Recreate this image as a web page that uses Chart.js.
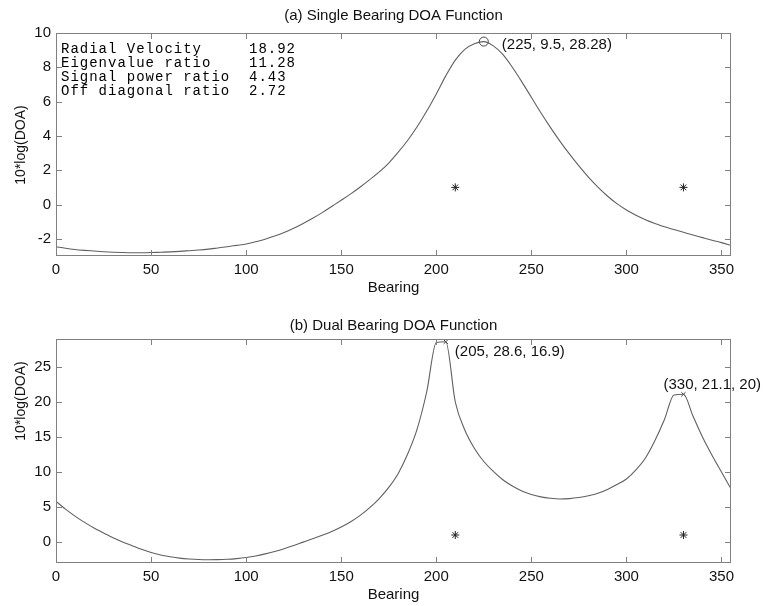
<!DOCTYPE html>
<html lang="en">
<head>
<meta charset="UTF-8">
<title>DOA Functions</title>
<script src="https://cdn.jsdelivr.net/npm/chart.js@4"></script>
<style>
    html, body { margin: 0; padding: 0; background: #fff; }
    .panel { position: absolute; left: 0; width: 764px; height: 303px; }
    #topPanel { top: 0; }
    #bottomPanel { top: 303px; }
</style>
</head>
<body>
<div class="panel" id="topPanel"><canvas id="singleChart" width="764" height="303"></canvas></div>
<div class="panel" id="bottomPanel"><canvas id="dualChart" width="764" height="303"></canvas></div>
<script>
// bearings (deg), sampled every 5 degrees
var bearings = [0, 5, 10, 15, 20, 25, 30, 35, 40, 45, 50, 55, 60, 65, 70, 75, 80, 85,
    90, 95, 100, 105, 110, 115, 120, 125, 130, 135, 140, 145, 150, 155, 160, 165, 170, 175,
    180, 185, 190, 195, 200, 205, 210, 215, 220, 225, 230, 235, 240, 245, 250, 255, 260, 265,
    270, 275, 280, 285, 290, 295, 300, 305, 310, 315, 320, 325, 330, 335, 340, 345, 350, 355];

// (a) single bearing DOA, 10*log(DOA)
var singleDoa = [-2.46, -2.55, -2.62, -2.67, -2.71, -2.75, -2.78, -2.8, -2.81, -2.81, -2.8, -2.78,
    -2.76, -2.73, -2.69, -2.65, -2.6, -2.53, -2.46, -2.38, -2.3, -2.17, -2.02, -1.84,
    -1.63, -1.38, -1.1, -0.8, -0.47, -0.11, 0.25, 0.62, 1.02, 1.45, 1.9, 2.42,
    3.05, 3.75, 4.55, 5.45, 6.45, 7.5, 8.42, 9.05, 9.38, 9.5, 9.25, 8.75,
    8.0, 7.15, 6.25, 5.35, 4.5, 3.7, 2.95, 2.25, 1.6, 1.02, 0.5, 0.05,
    -0.32, -0.62, -0.88, -1.1, -1.3, -1.46, -1.62, -1.78, -1.93, -2.08, -2.22, -2.38];

// (b) dual bearing DOA, 10*log(DOA)
var dualDoa = [5.8, 4.7, 3.7, 2.8, 2.0, 1.3, 0.6, 0.0, -0.52, -1.05, -1.5, -1.85,
    -2.1, -2.3, -2.42, -2.5, -2.53, -2.52, -2.47, -2.37, -2.22, -2.0, -1.7, -1.35,
    -0.95, -0.5, -0.02, 0.45, 0.95, 1.5, 2.15, 2.9, 3.8, 4.9, 6.2, 7.8,
    9.8, 12.6, 16.2, 21.5, 28.5, 28.6, 20.0, 16.0, 13.4, 11.5, 10.1, 8.9,
    8.0, 7.3, 6.8, 6.45, 6.25, 6.15, 6.2, 6.35, 6.6, 6.95, 7.5, 8.2,
    9.0, 10.3, 12.0, 14.5, 17.5, 21.0, 21.1, 18.0, 15.0, 12.4, 10.0, 7.6];

// true source bearings (asterisks)
var trueBearings = [210, 330];
var trueLevels = [1, 1];

// detected peaks
var singlePeakBearings = [225];
var singlePeakValues = [9.5];
var singlePeakLabels = ['(225, 9.5, 28.28)'];
var dualPeakBearings = [205, 330];
var dualPeakValues = [28.6, 21.1];
var dualPeakLabels = ['(205, 28.6, 16.9)', '(330, 21.1, 20)'];

// statistics box in panel (a)
var statNames = ['Radial Velocity', 'Eigenvalue ratio', 'Signal power ratio', 'Off diagonal ratio'];
var statValues = ['18.92', '11.28', '4.43', '2.72'];

// tick labels
var xTicks = [0, 50, 100, 150, 200, 250, 300, 350];
var singleYTicks = [-2, 0, 2, 4, 6, 8, 10];
var dualYTicks = [0, 5, 10, 15, 20, 25];

var SANS = '"Liberation Sans", Arial, Helvetica, sans-serif';
var MONO = '"Liberation Mono", "Courier New", monospace';
var TEXT = '#111';

function toPoints(xs, ys) {
    return xs.map(function (x, i) { return { x: x, y: ys[i] }; });
}

// frame, inward ticks, titles and text annotations drawn MATLAB-style
var matlabAxes = {
    id: 'matlabAxes',
    afterDraw: function (chart, args, opts) {
        var ctx = chart.ctx, a = chart.chartArea;
        var sx = chart.scales.x, sy = chart.scales.y;
        var tl = 6;
        ctx.save();
        ctx.strokeStyle = '#808080';
        ctx.lineWidth = 1;
        ctx.strokeRect(a.left + 0.5, a.top + 0.5, a.right - a.left - 1, a.bottom - a.top - 1);
        ctx.beginPath();
        opts.xTicks.forEach(function (v) {
            var px = Math.round(sx.getPixelForValue(v)) + 0.5;
            ctx.moveTo(px, a.bottom); ctx.lineTo(px, a.bottom - tl);
            ctx.moveTo(px, a.top); ctx.lineTo(px, a.top + tl);
        });
        opts.yTicks.forEach(function (v) {
            var py = Math.round(sy.getPixelForValue(v)) + 0.5;
            ctx.moveTo(a.left, py); ctx.lineTo(a.left + tl, py);
            ctx.moveTo(a.right, py); ctx.lineTo(a.right - tl, py);
        });
        ctx.stroke();

        ctx.fillStyle = TEXT;
        ctx.textBaseline = 'middle';

        // panel title
        ctx.font = '15px ' + SANS;
        ctx.textAlign = 'center';
        ctx.fillText(opts.title, (a.left + a.right) / 2, opts.titleY);

        // y axis title
        ctx.save();
        ctx.font = '14px ' + SANS;
        ctx.translate(opts.yTitleX, opts.yTitleY);
        ctx.rotate(-Math.PI / 2);
        ctx.fillText('10*log(DOA)', 0, 0);
        ctx.restore();

        // peak labels
        ctx.font = '15px ' + SANS;
        ctx.textAlign = 'left';
        opts.peakLabels.forEach(function (txt, i) {
            var px = sx.getPixelForValue(opts.peakX[i]);
            var py = sy.getPixelForValue(opts.peakY[i]);
            ctx.fillText(txt, px + opts.labelOffsets[i][0], py + opts.labelOffsets[i][1]);
        });

        // statistics box
        if (opts.stats) {
            ctx.fillStyle = '#000';
            ctx.font = '14px ' + MONO;
            ctx.letterSpacing = '1px';
            opts.stats.names.forEach(function (name, i) {
                var y = a.top + 16 + i * 14.2;
                ctx.fillText(name, a.left + 5, y);
                ctx.fillText(opts.stats.values[i], a.left + 193, y);
            });
        }
        ctx.restore();
    }
};

function makeChart(canvasId, cfg) {
    var ctx = document.getElementById(canvasId).getContext('2d');
    return new Chart(ctx, {
        type: 'scatter',
        data: {
            datasets: [{
                data: toPoints(bearings, cfg.values),
                showLine: true,
                borderColor: '#606060',
                borderWidth: 1.1,
                pointRadius: 0,
                cubicInterpolationMode: 'monotone'
            }, {
                data: toPoints(trueBearings, trueLevels),
                showLine: false,
                pointStyle: 'star',
                pointRadius: 4,
                borderColor: '#222',
                borderWidth: 1
            }, {
                data: toPoints(cfg.peakX, cfg.peakY),
                showLine: false,
                pointStyle: cfg.peakStyle,
                pointRadius: cfg.peakRadius,
                borderColor: '#444',
                backgroundColor: 'rgba(0,0,0,0)',
                borderWidth: 1
            }]
        },
        options: {
            responsive: false,
            animation: false,
            events: [],
            layout: { padding: { left: 0, right: 33, top: cfg.top, bottom: 0 } },
            plugins: {
                legend: { display: false },
                tooltip: { enabled: false },
                matlabAxes: {
                    title: cfg.title,
                    titleY: cfg.titleY,
                    yTitleX: 21,
                    yTitleY: cfg.yTitleY,
                    xTicks: xTicks,
                    yTicks: cfg.yTicks,
                    peakX: cfg.peakX,
                    peakY: cfg.peakY,
                    peakLabels: cfg.peakLabels,
                    labelOffsets: cfg.labelOffsets,
                    stats: cfg.stats
                }
            },
            scales: {
                x: {
                    type: 'linear',
                    min: 0,
                    max: 355,
                    afterBuildTicks: function (s) { s.ticks = xTicks.map(function (v) { return { value: v }; }); },
                    afterFit: function (s) { s.height = 303 - cfg.bottom; },
                    grid: { display: false, drawTicks: false },
                    border: { display: false },
                    ticks: { padding: 5, color: TEXT, maxRotation: 0, autoSkip: false, font: { family: SANS, size: 15 } },
                    title: { display: true, text: 'Bearing', color: TEXT, font: { family: SANS, size: 15, lineHeight: 1.2 },
                        padding: { top: 0, bottom: cfg.xTitlePad } }
                },
                y: {
                    type: 'linear',
                    min: cfg.yMin,
                    max: cfg.yMax,
                    afterBuildTicks: function (s) { s.ticks = cfg.yTicks.map(function (v) { return { value: v }; }); },
                    afterFit: function (s) { s.width = 56; },
                    grid: { display: false, drawTicks: false },
                    border: { display: false },
                    ticks: { padding: 5, color: TEXT, autoSkip: false, font: { family: SANS, size: 15 } }
                }
            }
        },
        plugins: [matlabAxes]
    });
}

var singleChart = makeChart('singleChart', {
    values: singleDoa,
    title: '(a) Single Bearing DOA Function',
    titleY: 16,
    top: 33,
    bottom: 256,
    xTitlePad: 6,
    yTitleY: 145,
    yMin: -3,
    yMax: 10,
    yTicks: singleYTicks,
    peakX: singlePeakBearings,
    peakY: singlePeakValues,
    peakStyle: 'circle',
    peakRadius: 4.5,
    peakLabels: singlePeakLabels,
    labelOffsets: [[18, 3]],
    stats: { names: statNames, values: statValues }
});

var dualChart = makeChart('dualChart', {
    values: dualDoa,
    title: '(b) Dual Bearing DOA Function',
    titleY: 23,
    top: 36,
    bottom: 260,
    xTitlePad: 2,
    yTitleY: 98,
    yMin: -3,
    yMax: 29,
    yTicks: dualYTicks,
    peakX: dualPeakBearings,
    peakY: dualPeakValues,
    peakStyle: 'crossRot',
    peakRadius: 3,
    peakLabels: dualPeakLabels,
    labelOffsets: [[9, 10], [-20, -9]],
    stats: null
});
</script>
</body>
</html>
